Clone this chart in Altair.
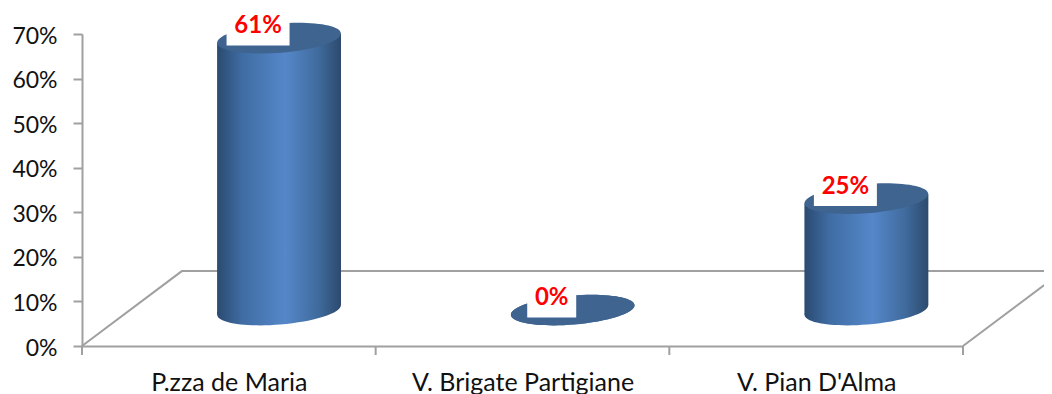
import altair as alt
import pandas as pd

CATEGORIES = ["P.zza de Maria", "V. Brigate Partigiane", "V. Pian D'Alma"]
VALUES = [0.61, 0.0, 0.25]
LABELS = ["61%", "0%", "25%"]
Y_TICKS = [0, 0.1, 0.2, 0.3, 0.4, 0.5, 0.6, 0.7]

FONT = "Lato"
GREY = "#a0a0a0"
DEPTH_X, DEPTH_Y = 0.171, 0.0807   # 3-D floor shift of the cylinders
HALF_W, TILT = 0.211, 0.0105
LABEL_DX, LABEL_DY = 0.0715, 0.0105

centers = [i + 0.5 + DEPTH_X for i in range(len(VALUES))]

body = pd.DataFrame([
    {"cat": c, "x": x + s * HALF_W,
     "y": v + DEPTH_Y + s * TILT, "y0": DEPTH_Y + s * TILT}
    for c, x, v in zip(CATEGORIES, centers, VALUES) for s in (-1, 1)
])
caps = pd.DataFrame({"x": centers, "top": [v + DEPTH_Y for v in VALUES],
                     "base": [DEPTH_Y] * len(VALUES)})
boxes = pd.DataFrame([
    {"label": l, "x": x - LABEL_DX,
     "x0": x - LABEL_DX - (21 + 14 * len(l)) / 2 / 293.67,
     "x1": x - LABEL_DX + (21 + 14 * len(l)) / 2 / 293.67,
     "yt": v + DEPTH_Y + 0.0265,
     "y0": v + DEPTH_Y + LABEL_DY - 0.027,
     "y1": v + DEPTH_Y + LABEL_DY + 0.027}
    for l, x, v in zip(LABELS, centers, VALUES)
])
floor = pd.DataFrame({"o": [0, 1, 2, 3], "x": [0, 0.34, 3.34, 3],
                      "y": [0, 0.168, 0.168, 0]})
ticks = pd.DataFrame({"x": [0, 1, 2, 3]})

gradient = alt.LinearGradient(
    gradient="linear", x1=0, x2=1, y1=0, y2=0,
    stops=[
        alt.GradientStop(offset=0, color="#2b4a70"),
        alt.GradientStop(offset=0.2, color="#3f6ca3"),
        alt.GradientStop(offset=0.55, color="#5587c9"),
        alt.GradientStop(offset=0.82, color="#3f6a9c"),
        alt.GradientStop(offset=1, color="#2d4a6c"),
    ],
)
ELLIPSE = ("M -0.997,0.08 A 1,0.235 -4.6 1 1 0.997,-0.08 "
           "A 1,0.235 -4.6 1 1 -0.997,0.08 Z")

x_scale = alt.Scale(domain=[0, 3], nice=False, zero=False)
y_scale = alt.Scale(domain=[0, 0.7], nice=False)
x_pos = alt.X("x:Q", scale=x_scale, title=None, axis=alt.Axis(
    values=[0.5, 1.5, 2.5],
    labelExpr=f"{CATEGORIES!r}[floor(datum.value)]",
    ticks=False, labelPadding=24, labelFontSize=25, labelFont=FONT,
    labelColor="#111111", domainColor=GREY, domainWidth=2, grid=False,
    labelFlush=False, labelOverlap=False, labelLimit=400))
y_axis = alt.Axis(values=Y_TICKS, format=".0%", labelFont=FONT, labelFontSize=23,
                  labelColor="#111111", tickColor=GREY, tickWidth=2, tickSize=9,
                  domainColor=GREY, domainWidth=2, labelPadding=16, grid=False,
                  labelOffset=2)

floor_l = alt.Chart(floor).mark_line(color=GREY, strokeWidth=2, clip=False).encode(
    x=x_pos, y=alt.Y("y:Q", scale=y_scale, title=None, axis=y_axis),
    order="o:Q")
tick_l = alt.Chart(ticks).mark_rule(color=GREY, strokeWidth=2).encode(
    x=alt.X("x:Q", scale=x_scale), y=alt.value(312), y2=alt.value(321))
base_l = alt.Chart(caps).mark_point(
    shape=ELLIPSE, size=15376, filled=True, fill=gradient, opacity=1, strokeWidth=0
).encode(x=alt.X("x:Q", scale=x_scale), y=alt.Y("base:Q", scale=y_scale))
body_l = alt.Chart(body).mark_area(fill=gradient).encode(
    x=alt.X("x:Q", scale=x_scale),
    y=alt.Y("y:Q", scale=y_scale, stack=None), y2="y0:Q", detail="cat:N")
top_l = alt.Chart(caps).mark_point(
    shape=ELLIPSE, size=15376, filled=True, fill="#3e648f", opacity=1, strokeWidth=0
).encode(x=alt.X("x:Q", scale=x_scale), y=alt.Y("top:Q", scale=y_scale))
box_l = alt.Chart(boxes).mark_rect(color="white").encode(
    x=alt.X("x0:Q", scale=x_scale), x2="x1:Q",
    y=alt.Y("y0:Q", scale=y_scale), y2="y1:Q")
text_l = alt.Chart(boxes).mark_text(
    font=FONT, fontSize=24, fontWeight="bold", color="#ff0000", baseline="middle"
).encode(x=alt.X("x:Q", scale=x_scale), y=alt.Y("yt:Q", scale=y_scale), text="label:N")

chart = alt.layer(floor_l, tick_l, base_l, body_l, top_l, box_l, text_l).properties(
    width=881, height=312,
    autosize=alt.AutoSizeParams(type="none"),
    padding={"left": 74, "top": 26, "right": 81, "bottom": 48},
).configure_view(stroke=None)

chart.save("out.html", embed_options={"renderer": "svg", "actions": False})
